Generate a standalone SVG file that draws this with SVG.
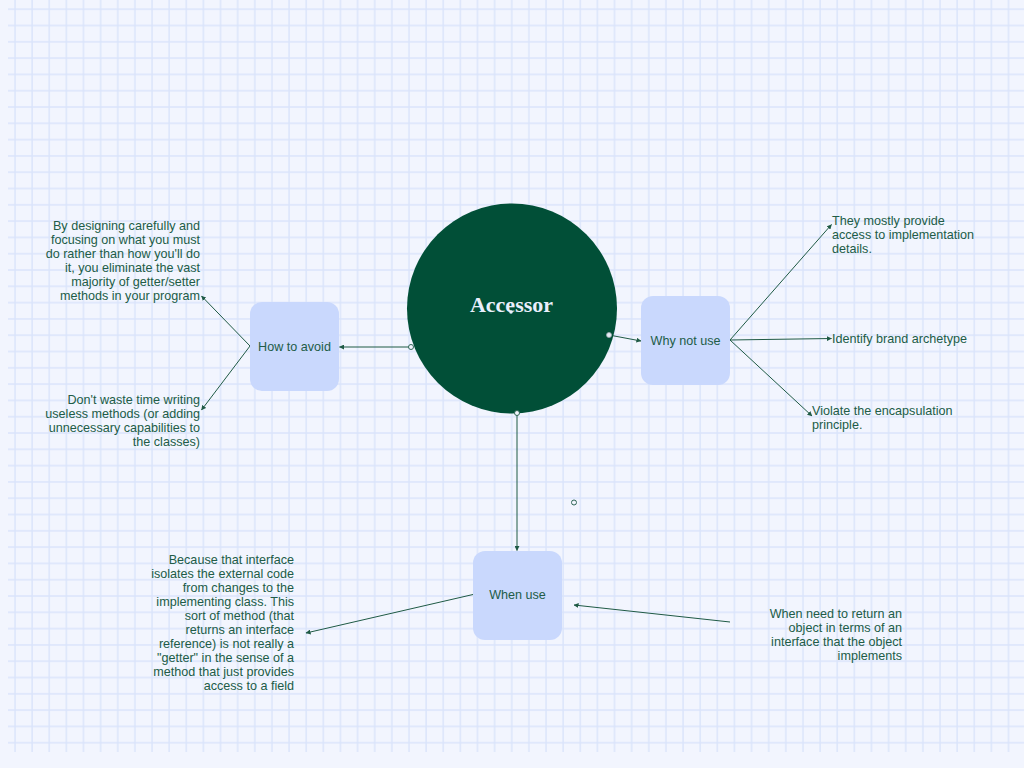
<svg xmlns="http://www.w3.org/2000/svg" width="1024" height="768" viewBox="0 0 1024 768">
<defs>
<pattern id="grid" x="13" y="7.3" width="17.13" height="16.3" patternUnits="userSpaceOnUse">
<path d="M2 0V16.3M0 2H17.13" stroke="#dae4fb" stroke-width="1.4" fill="none"/>
</pattern>
<marker id="arr" viewBox="0 0 6 6" refX="5.5" refY="3" markerWidth="5" markerHeight="5" orient="auto" markerUnits="userSpaceOnUse">
<path d="M0 0L6 3L0 6Z" fill="#1f5a45"/>
</marker>
<style>
.t{font-family:"Liberation Sans",Arial,sans-serif;font-size:12.6px;fill:#215c47}
.r{text-anchor:end}
.m{text-anchor:middle}
.node{fill:#c9d8fd}
.c{stroke:#1f5a45;stroke-width:1;fill:none;marker-end:url(#arr)}
.h{fill:#f2f5fe;stroke:#2f6655;stroke-width:1}
</style>
</defs>
<rect width="1024" height="768" fill="#f2f5fe"/>
<rect x="8" y="0" width="1016" height="752" fill="url(#grid)"/>

<g id="connectors">
<path class="c" d="M411 347H339.5"/>
<path class="c" d="M609 335L641 341"/>
<path class="c" d="M517 413V550.5"/>
<path class="c" d="M250 346L201.5 296"/>
<path class="c" d="M250 346L201.5 410"/>
<path class="c" d="M730 340L831.5 224.5"/>
<path class="c" d="M730 340L831.5 338.5"/>
<path class="c" d="M730 340L812 416"/>
<path class="c" d="M473 594.5L306 633"/>
<path class="c" d="M730 622L574 605"/>
</g>

<g id="accessor">
<circle cx="512" cy="308.5" r="105" fill="#014f37"/>
<text x="511.5" y="312" text-anchor="middle" font-family="Liberation Serif,'DejaVu Serif',serif" font-weight="bold" font-size="22" fill="#e9effc">Accessor</text>
<circle cx="511" cy="312" r="1.8" fill="#e9effc"/>
</g>

<g id="handles">
<circle class="h" cx="411" cy="347" r="2.5"/>
<circle cx="609" cy="335" r="2.5" fill="#e6ebf5" stroke="#9aaab0" stroke-width="0.8"/>
<circle class="h" cx="517" cy="413" r="2.5" stroke="#8fa39c"/>
<circle class="h" cx="574" cy="502.5" r="2.5"/>
</g>

<g id="how-to-avoid">
<rect class="node" x="250" y="302" width="89" height="89" rx="12"/>
<text class="t m" x="294.5" y="351">How to avoid</text>
</g>

<g id="why-not-use">
<rect class="node" x="641" y="296" width="89" height="89" rx="12"/>
<text class="t m" x="685.5" y="345">Why not use</text>
</g>

<g id="when-use">
<rect class="node" x="473" y="551" width="89" height="89" rx="12"/>
<text class="t m" x="517.5" y="599">When use</text>
</g>

<g id="avoid-1">
<text class="t r" x="200" y="229.5">By designing carefully and</text>
<text class="t r" x="200" y="243.5">focusing on what you must</text>
<text class="t r" x="200" y="257.5">do rather than how you'll do</text>
<text class="t r" x="200" y="271.5">it, you eliminate the vast</text>
<text class="t r" x="200" y="285.5">majority of getter/setter</text>
<text class="t r" x="200" y="299.5">methods in your program</text>
</g>

<g id="avoid-2">
<text class="t r" x="200" y="403.5">Don't waste time writing</text>
<text class="t r" x="200" y="417.5">useless methods (or adding</text>
<text class="t r" x="200" y="431.5">unnecessary capabilities to</text>
<text class="t r" x="200" y="445.5">the classes)</text>
</g>

<g id="why-1">
<text class="t" x="832" y="224.5">They mostly provide</text>
<text class="t" x="832" y="238.5">access to implementation</text>
<text class="t" x="832" y="252.5">details.</text>
</g>

<g id="why-2">
<text class="t" x="832" y="343">Identify brand archetype</text>
</g>

<g id="why-3">
<text class="t" x="812" y="415">Violate the encapsulation</text>
<text class="t" x="812" y="428.5">principle.</text>
</g>

<g id="when-1">
<text class="t r" x="294" y="563.5">Because that interface</text>
<text class="t r" x="294" y="577.5">isolates the external code</text>
<text class="t r" x="294" y="591.5">from changes to the</text>
<text class="t r" x="294" y="605.5">implementing class. This</text>
<text class="t r" x="294" y="619.5">sort of method (that</text>
<text class="t r" x="294" y="633.5">returns an interface</text>
<text class="t r" x="294" y="647.5">reference) is not really a</text>
<text class="t r" x="294" y="661.5">"getter" in the sense of a</text>
<text class="t r" x="294" y="675.5">method that just provides</text>
<text class="t r" x="294" y="689.5">access to a field</text>
</g>

<g id="when-2">
<text class="t r" x="902" y="617.5">When need to return an</text>
<text class="t r" x="902" y="631.5">object in terms of an</text>
<text class="t r" x="902" y="645.5">interface that the object</text>
<text class="t r" x="902" y="659.5">implements</text>
</g>
</svg>
